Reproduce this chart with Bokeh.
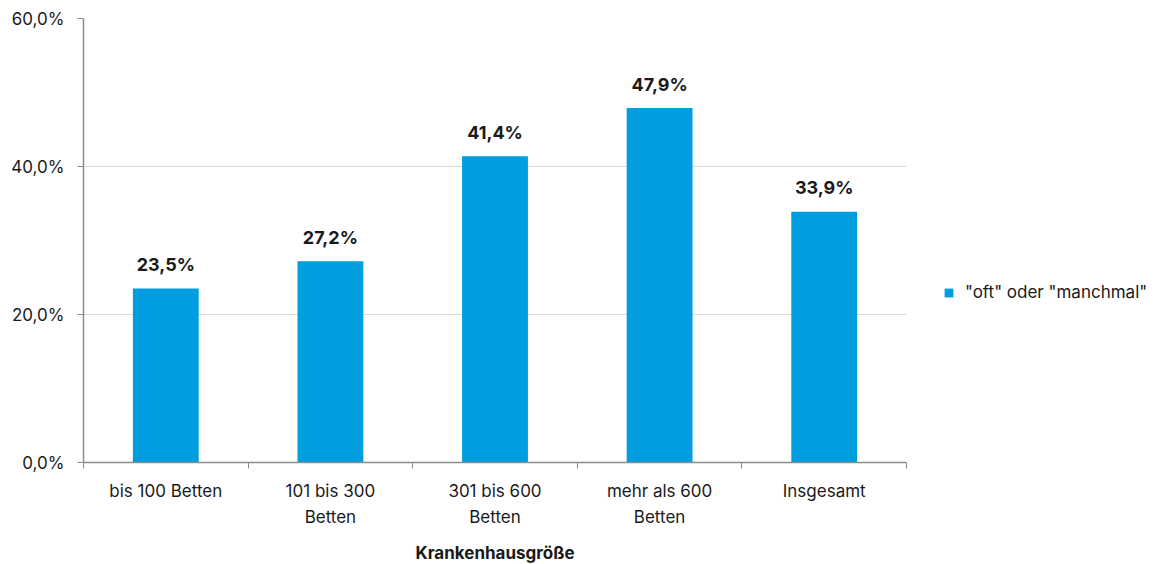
from bokeh.plotting import figure
from bokeh.models import ColumnDataSource, FixedTicker, Legend, LegendItem
from bokeh.core.properties import value
from bokeh.embed import file_html
from bokeh.resources import INLINE

categories = ["bis 100 Betten", "101 bis 300\nBetten", "301 bis 600\nBetten",
              "mehr als 600\nBetten", "Insgesamt"]
values = [23.5, 27.2, 41.4, 47.9, 33.9]
series_name = '"oft" oder "manchmal"'
y_ticks = [0, 20, 40, 60]
x_title = "Krankenhausgröße"

BAR = "#009EDF"
AXIS = "#8C8C8C"
GRID = "#D9D9D9"
TXT = "#1A1A1A"
FONT = "Inter"

xs = [i + 0.5 for i in range(len(categories))]
labels = [f"{v:.1f}%".replace(".", ",") for v in values]
src = ColumnDataSource(dict(x=xs, top=values, label=labels))

p = figure(width=1168, height=564, frame_width=823, frame_height=444,
           output_backend="svg", toolbar_location=None,
           x_range=(0, len(categories)), y_range=(0, 60),
           min_border_left=83, min_border_right=262, min_border_top=18,
           min_border_bottom=102)
p.outline_line_color = None
p.background_fill_color = "white"
p.border_fill_color = "white"

r = p.vbar(x="x", top="top", width=0.4, source=src, fill_color=BAR, line_color=None)
p.text(x="x", y="top", text="label", source=src, text_align="center",
       text_baseline="alphabetic", y_offset=-24, text_font=value(FONT),
       text_font_style="bold", text_font_size="18px", text_color=TXT)

# x axis
p.xaxis.ticker = FixedTicker(ticks=xs, minor_ticks=list(range(len(categories) + 1)))
p.xaxis.major_label_overrides = {x: c for x, c in zip(xs, categories)}
p.xaxis.major_tick_line_color = None
p.xaxis.major_tick_out = 0
p.xaxis.major_tick_in = 0
p.xaxis.minor_tick_line_color = AXIS
p.xaxis.minor_tick_out = 6
p.xaxis.minor_tick_in = 0
p.xaxis.axis_line_color = AXIS
p.xaxis.axis_line_width = 1.5
p.xaxis.major_label_standoff = 12
p.xaxis.major_label_text_font = FONT
p.xaxis.major_label_text_font_size = "17px"
p.xaxis.major_label_text_line_height = 1.3
p.xaxis.major_label_text_color = TXT
p.xaxis.axis_label = x_title
p.xaxis.axis_label_text_font = FONT
p.xaxis.axis_label_text_font_size = "17px"
p.xaxis.axis_label_text_font_style = "bold"
p.xaxis.axis_label_text_color = TXT
p.xaxis.axis_label_standoff = 13

# y axis
p.yaxis.ticker = FixedTicker(ticks=y_ticks, minor_ticks=[])
p.yaxis.major_label_overrides = {t: f"{t:.1f}%".replace(".", ",") for t in y_ticks}
p.yaxis.axis_line_color = AXIS
p.yaxis.axis_line_width = 1.5
p.yaxis.major_tick_line_color = AXIS
p.yaxis.major_tick_out = 6
p.yaxis.major_tick_in = 0
p.yaxis.major_label_standoff = 13
p.yaxis.major_label_text_font = FONT
p.yaxis.major_label_text_font_size = "17px"
p.yaxis.major_label_text_color = TXT

p.xgrid.grid_line_color = None
p.ygrid.ticker = FixedTicker(ticks=y_ticks)
p.ygrid.grid_line_color = GRID
p.ygrid.grid_line_width = 1.2

legend = Legend(items=[LegendItem(label=series_name, renderers=[r])],
                location=(37, 160), border_line_color=None,
                background_fill_alpha=0, padding=5, margin=0,
                glyph_width=11, glyph_height=11, label_standoff=11,
                label_text_font=FONT, label_text_font_size="17px",
                label_text_color=TXT)
p.add_layout(legend, "right")

open("out.html", "w").write(file_html(p, INLINE))
